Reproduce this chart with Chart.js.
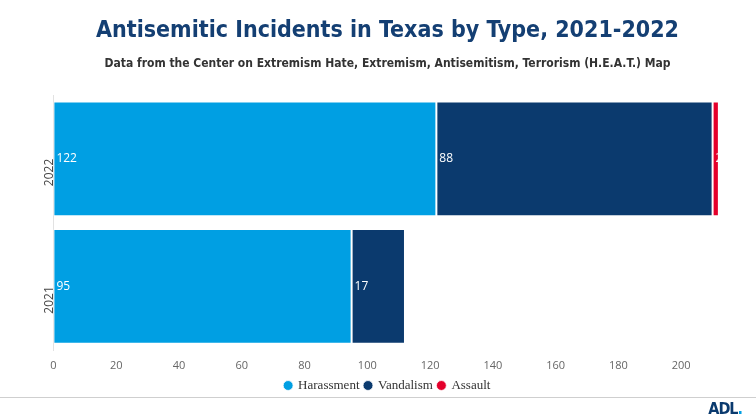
<!DOCTYPE html>
<html>
<head>
<meta charset="utf-8">
<script src="https://cdn.jsdelivr.net/npm/chart.js@4/dist/chart.umd.min.js"></script>
<style>
  html, body { margin: 0; padding: 0; background: #fff; }
  #wrap { position: relative; width: 756px; height: 420px; }
  #rule { position: absolute; left: 0; top: 397px; width: 756px; height: 0; border-top: 1px solid #cfcfcf; }
  #logo { position: absolute; right: 14px; top: 399px; font: bold 16px "DejaVu Sans Condensed", Roboto, sans-serif; color: #0a3a6e; letter-spacing: -1px; }
</style>
</head>
<body>
<div id="wrap">
  <canvas id="c" width="756" height="420"></canvas>
  <div id="rule"></div>
  <div id="logo">ADL<span style="color:#009fe3">.</span></div>
</div>
<script>
// ==================== 数据 ====================
const years = ['2022', '2021']
const harassment = [122, 95]
const vandalism = [88, 17]
const assault = [2, 0]
const xTicks = [0, 20, 40, 60, 80, 100, 120, 140, 160, 180, 200]

const COLORS = {
    harassment: '#009fe3',
    vandalism: '#0b3a6e',
    assault: '#e4002b'
}

// 段内白色数值标签
const segmentLabels = {
    id: 'segmentLabels',
    afterDatasetsDraw(chart) {
        const { ctx } = chart
        ctx.save()
        ctx.font = '12px "Open Sans", sans-serif'
        ctx.fillStyle = '#ffffff'
        ctx.textBaseline = 'middle'
        ctx.textAlign = 'left'
        chart.data.datasets.forEach((ds, i) => {
            const meta = chart.getDatasetMeta(i)
            meta.data.forEach((bar, j) => {
                const v = ds.data[j]
                if (!v) return
                ctx.fillText(String(v), bar.base + 3, bar.y)
            })
        })
        ctx.restore()
    }
}

const ds = (label, data, color) => ({
    label,
    data,
    backgroundColor: color,
    borderColor: 'rgba(255,255,255,0.8)',
    borderWidth: 1,
    borderSkipped: false,
    barPercentage: 0.9,
    categoryPercentage: 1
})

new Chart(document.getElementById('c'), {
    type: 'bar',
    data: {
        labels: years,
        datasets: [
            ds('Harassment', harassment, COLORS.harassment),
            ds('Vandalism', vandalism, COLORS.vandalism),
            ds('Assault', assault, COLORS.assault)
        ]
    },
    options: {
        indexAxis: 'y',
        responsive: false,
        animation: false,
        layout: { padding: { left: 31, right: 12, top: 0, bottom: 18 } },
        plugins: {
            title: {
                display: true,
                text: 'Antisemitic Incidents in Texas by Type, 2021-2022',
                color: '#143f73',
                font: { family: '"DejaVu Sans Condensed", Roboto, sans-serif', size: 23, weight: 'bold' },
                padding: { top: 17, bottom: 6 }
            },
            subtitle: {
                display: true,
                text: 'Data from the Center on Extremism Hate, Extremism, Antisemitism, Terrorism (H.E.A.T.) Map',
                color: '#333333',
                font: { family: '"DejaVu Sans Condensed", Roboto, sans-serif', size: 12, weight: 'bold' },
                padding: { top: 6, bottom: 24 }
            },
            legend: {
                position: 'bottom',
                labels: {
                    usePointStyle: true,
                    pointStyle: 'circle',
                    boxWidth: 7,
                    boxHeight: 7,
                    padding: 5,
                    color: '#333333',
                    font: { family: '"Liberation Serif", serif', size: 13 }
                }
            },
            tooltip: { enabled: false }
        },
        scales: {
            x: {
                stacked: true,
                min: 0,
                max: 220,
                afterBuildTicks: (axis) => {
                    axis.ticks = xTicks.map(v => ({ value: v }))
                },
                afterFit: (axis) => { axis.height = 24 },
                grid: { display: false, drawTicks: false },
                border: { display: false },
                ticks: {
                    color: '#666666',
                    padding: 9,
                    font: { family: '"Open Sans", sans-serif', size: 11 }
                }
            },
            y: {
                stacked: true,
                grid: { display: false, drawTicks: false },
                border: { display: true, color: '#e2e2e2' },
                ticks: {
                    minRotation: 90,
                    maxRotation: 90,
                    padding: 4,
                    color: '#444444',
                    font: { family: '"Open Sans", sans-serif', size: 12 }
                }
            }
        }
    },
    plugins: [segmentLabels]
})
</script>
</body>
</html>
